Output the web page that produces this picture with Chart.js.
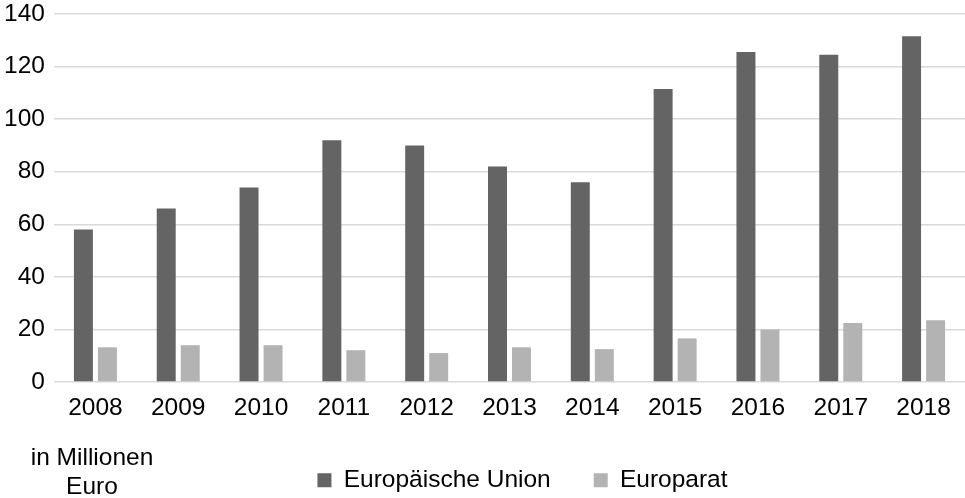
<!DOCTYPE html>
<html lang="de">

<head>
    <meta charset="UTF-8">
    <title>Beiträge EU / Europarat</title>
    <style>
        html, body { margin: 0; padding: 0; background: #fff; }
        #wrap { width: 965px; height: 498px; }
    </style>
</head>

<body>
    <div id="wrap">
        <canvas id="myChart" width="965" height="498"></canvas>
    </div>
    <script src="https://cdn.jsdelivr.net/npm/chart.js"></script>
    <script>
        // Daten (in Millionen Euro)
        const years = ['2008', '2009', '2010', '2011', '2012', '2013', '2014', '2015', '2016', '2017', '2018'];
        const euValues = [58, 66, 74, 92, 90, 82, 76, 111.5, 125.5, 124.5, 131.5];
        const coeValues = [13.2, 14, 14, 12.1, 11, 13.2, 12.5, 16.6, 20, 22.4, 23.5];
        const yTicks = [0, 20, 40, 60, 80, 100, 120, 140];
        const unitLines = ['in Millionen', 'Euro'];

        const FONT = '"Liberation Sans", Arial, sans-serif';
        const FS = 24.5;

        // Einheit unten links + Legende etwas nach rechts/unten schieben
        const unitLabel = {
            id: 'unitLabel',
            afterLayout(chart) {
                chart.legend.left += 80;
                chart.legend.top += 3;
            },
            afterDraw(chart) {
                const ctx = chart.ctx;
                ctx.save();
                ctx.font = FS + 'px ' + FONT;
                ctx.fillStyle = '#000';
                ctx.textAlign = 'center';
                ctx.textBaseline = 'middle';
                ctx.fillText(unitLines[0], 92, 458);
                ctx.fillText(unitLines[1], 92, 487);
                ctx.restore();
            }
        };

        const ctx1 = document.getElementById('myChart');
        const myChart = new Chart(ctx1, {
            type: 'bar',
            data: {
                labels: years,
                datasets: [{
                    label: 'Europäische Union',
                    backgroundColor: '#646464',
                    data: euValues,
                    categoryPercentage: 0.58,
                    barPercentage: 0.79
                }, {
                    label: 'Europarat',
                    backgroundColor: '#b3b3b3',
                    data: coeValues,
                    categoryPercentage: 0.58,
                    barPercentage: 0.79
                }]
            },
            options: {
                responsive: false,
                animation: false,
                layout: {
                    padding: { top: 14, left: 0, right: 0, bottom: 0 }
                },
                scales: {
                    x: {
                        grid: { display: false },
                        border: { display: false },
                        ticks: {
                            color: '#000',
                            font: { family: FONT, size: FS },
                            padding: 4,
                            maxRotation: 0
                        },
                        afterFit(scale) { scale.height = 40; }
                    },
                    y: {
                        min: 0,
                        max: 140,
                        afterBuildTicks(scale) {
                            scale.ticks = yTicks.map(v => ({ value: v }));
                        },
                        grid: { color: '#d9d9d9', lineWidth: 1.5, drawTicks: false },
                        border: { display: false },
                        ticks: {
                            color: '#000',
                            font: { family: FONT, size: FS },
                            padding: 9
                        },
                        afterFit(scale) {
                            scale.width = 54;
                            scale.paddingTop = 0;
                            scale.paddingBottom = 0;
                        }
                    }
                },
                plugins: {
                    legend: {
                        position: 'bottom',
                        maxHeight: 76,
                        labels: {
                            color: '#000',
                            font: { family: FONT, size: FS },
                            boxWidth: 14,
                            boxHeight: 14,
                            padding: 43
                        }
                    },
                    tooltip: { enabled: false }
                }
            },
            plugins: [unitLabel]
        });
    </script>
</body>

</html>
